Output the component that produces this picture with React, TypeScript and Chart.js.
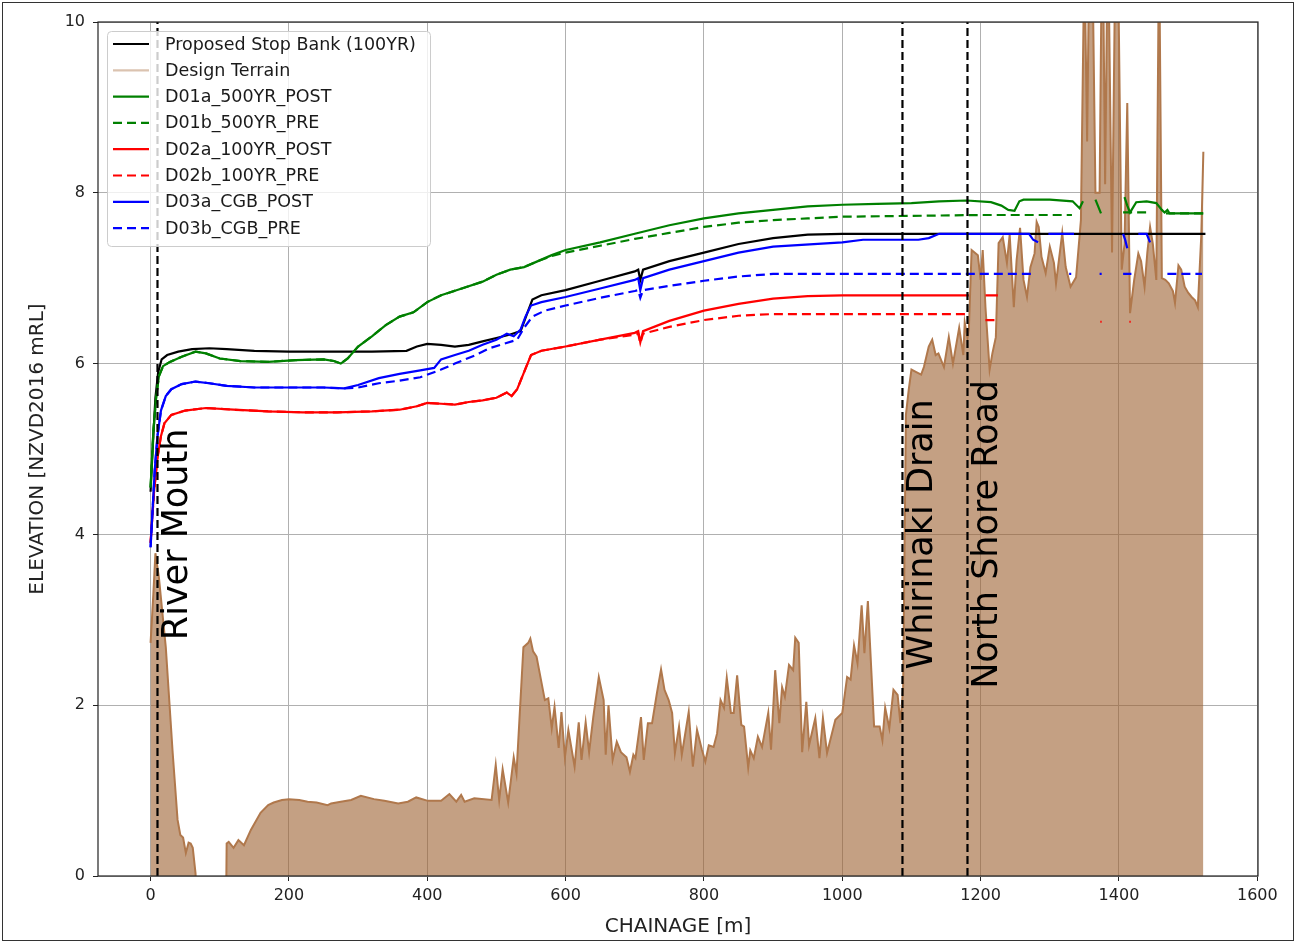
import React, { useEffect, useRef } from "react";
import { Chart, registerables } from "chart.js";

Chart.register(...registerables);

const FONT = '"DejaVu Sans", "Liberation Sans", sans-serif';

const X_TICKS = [0, 200, 400, 600, 800, 1000, 1200, 1400, 1600];
const Y_TICKS = [0, 2, 4, 6, 8, 10];
const X_MIN = -76;
const X_MAX = 1601;
const Y_MIN = 0;
const Y_MAX = 10;

const X_TITLE = "CHAINAGE [m]";
const Y_TITLE = "ELEVATION [NZVD2016 mRL]";

const MARKER_X = [10, 1087, 1181];
const MARKER_LABELS = ["River Mouth", "Whirinaki Drain", "North Shore Road"];
const MARKER_LABEL_Y = 4;

// Design terrain
const TERRAIN_X = [
  0, 4, 7, 12, 22, 32, 39, 43, 47, 51, 55, 58, 61, 65, 68, 109, 110, 113, 120, 127, 135, 145, 159, 170, 178, 190,
  200, 215, 227, 240, 256, 261, 275, 290, 304, 323, 338, 358, 372, 384, 401, 420, 432, 442, 449, 454, 468, 493,
  499, 504, 509, 517, 525, 529, 539, 546, 549, 553, 558, 570, 575, 580, 584, 590, 594, 599, 604, 613, 619, 623,
  629, 634, 640, 648, 655, 658, 662, 668, 674, 680, 688, 693, 698, 701, 709, 713, 719, 725, 732, 738, 743, 749,
  754, 758, 764, 768, 778, 784, 790, 797, 802, 807, 814, 819, 824, 829, 833, 839, 843, 848, 854, 858, 864, 867,
  872, 878, 884, 893, 897, 903, 909, 913, 917, 923, 929, 932, 937, 942, 948, 952, 961, 967, 972, 978, 990, 1000,
  1007, 1012, 1017, 1022, 1028, 1032, 1037, 1046, 1054, 1058, 1062, 1068, 1074, 1080, 1084, 1088, 1092, 1096,
  1100, 1107, 1114, 1118, 1125, 1130, 1135, 1139, 1147, 1154, 1160, 1169, 1175, 1177, 1181, 1183, 1187, 1196,
  1200, 1203, 1207, 1213, 1217, 1222, 1226, 1232, 1238, 1242, 1248, 1252, 1257, 1262, 1267, 1272, 1278, 1281,
  1284, 1288, 1294, 1300, 1306, 1309, 1318, 1323, 1330, 1338, 1345, 1350, 1354, 1358, 1362, 1366, 1372, 1376,
  1380, 1384, 1390, 1395, 1399, 1404, 1408, 1412, 1416, 1422, 1428, 1432, 1437, 1441, 1445, 1449, 1454, 1458,
  1462, 1467, 1472, 1478, 1481, 1486, 1490, 1495, 1500, 1505, 1510, 1514, 1519, 1522,
];
const TERRAIN_Y = [
  2.73, 3.3, 3.78, 3.5, 2.68, 1.44, 0.66, 0.48, 0.45, 0.27, 0.39, 0.38, 0.33, 0.03, -0.5, -0.5, 0.38, 0.4, 0.33,
  0.42, 0.36, 0.54, 0.74, 0.83, 0.86, 0.89, 0.9, 0.89, 0.87, 0.86, 0.83, 0.85, 0.87, 0.89, 0.94, 0.9, 0.88, 0.85,
  0.87, 0.92, 0.88, 0.88, 0.96, 0.87, 0.95, 0.87, 0.91, 0.89, 1.3, 0.89, 1.25, 0.86, 1.39, 1.2, 2.68, 2.73, 2.78,
  2.63, 2.57, 2.06, 2.08, 1.73, 1.98, 1.5, 1.92, 1.39, 1.71, 1.28, 1.8, 1.36, 1.8, 1.45, 1.86, 2.33, 2.06, 1.42,
  2.0, 1.36, 1.57, 1.45, 1.39, 1.22, 1.42, 1.38, 1.86, 1.36, 1.79, 1.79, 2.14, 2.42, 2.18, 2.06, 1.91, 1.44, 1.75,
  1.42, 1.92, 1.28, 1.71, 1.48, 1.34, 1.53, 1.51, 1.67, 2.06, 1.97, 2.32, 1.91, 1.91, 2.35, 1.77, 1.75, 1.27, 1.47,
  1.38, 1.63, 1.51, 1.91, 1.48, 2.41, 1.79, 2.21, 2.1, 2.47, 2.41, 2.79, 2.73, 1.45, 2.04, 1.53, 1.85, 1.38, 1.85,
  1.44, 1.83, 1.91, 2.33, 2.3, 2.7, 2.49, 3.17, 2.61, 3.22, 1.75, 1.75, 1.59, 1.97, 1.73, 2.18, 2.12, 1.79, 2.2,
  5.4, 5.69, 5.93, 5.9, 5.87, 5.96, 6.2, 6.28, 6.1, 6.12, 5.96, 6.31, 6.0, 6.42, 6.1, 6.48, 6.3, 6.4, 7.33, 7.27,
  6.98, 7.33, 6.66, 5.93, 6.12, 6.31, 7.41, 7.48, 7.18, 7.51, 6.66, 7.21, 7.59, 6.98, 6.78, 7.13, 7.29, 7.66, 7.6,
  7.25, 7.06, 7.37, 7.18, 6.94, 7.53, 7.13, 6.9, 7.01, 7.68, 10.8, 8.6, 11.5, 10.5, 8.0, 8.0, 11.5, 8.1, 11.2, 7.3,
  11.0, 10.5, 7.1, 7.4, 9.05, 6.59, 6.98, 7.29, 7.2, 6.9, 7.3, 7.6, 7.4, 6.98, 11.0, 7.0, 6.98, 6.94, 6.85, 6.71,
  7.15, 7.1, 6.9, 6.83, 6.78, 6.74, 6.66, 7.5, 8.48,
];

// Proposed Stop Bank (100YR)
const STOPBANK_X = [
  0, 3, 7, 11, 16, 24, 40, 60, 85, 110, 150, 200, 260, 320, 370, 385, 400, 420, 440, 460, 480, 500, 520, 535, 545,
  552, 565, 600, 650, 700, 705, 708, 712, 750, 800, 850, 900, 950, 1000, 1525,
];
const STOPBANK_Y = [
  4.5, 5.0, 5.6, 5.9, 6.05, 6.1, 6.14, 6.17, 6.18, 6.17, 6.15, 6.14, 6.14, 6.14, 6.15, 6.2, 6.23, 6.22, 6.2, 6.22,
  6.26, 6.3, 6.34, 6.38, 6.6, 6.75, 6.8, 6.86, 6.97, 7.08, 7.1, 6.98, 7.1, 7.2, 7.3, 7.4, 7.47, 7.51, 7.52, 7.52,
];

// D01a_500YR_POST
const D01A_X = [
  0, 4, 8, 12, 18, 28, 45, 65, 80, 100, 130, 170, 210, 250, 265, 275, 285, 300, 320, 340, 360, 380, 400, 420, 450,
  480, 500, 520, 540, 560, 580, 600, 650, 700, 750, 800, 850, 900, 950, 1000, 1050, 1100, 1140, 1180, 1215, 1230,
  1240, 1249, 1256, 1262, 1300, 1333, 1343, 1348, 1350, 1366, 1374, 1376, 1408, 1412, 1416, 1425, 1440, 1454, 1458,
  1462, 1466, 1470, 1473, 1522,
];
const D01A_Y = [
  4.55, 5.2, 5.6, 5.85, 5.97, 6.02, 6.08, 6.14, 6.12, 6.06, 6.03, 6.02, 6.04, 6.05, 6.03, 6.0, 6.06, 6.2, 6.32,
  6.45, 6.55, 6.6, 6.72, 6.8, 6.88, 6.96, 7.04, 7.1, 7.13, 7.2, 7.27, 7.33, 7.42, 7.52, 7.62, 7.7, 7.76, 7.8, 7.84,
  7.86, 7.87, 7.88, 7.9, 7.91, 7.89, 7.85, 7.8, 7.79, 7.9, 7.92, 7.92, 7.9, 7.82, 7.9, null, 7.92, 7.76, null, 7.95,
  7.85, 7.77, 7.89, 7.9, 7.88, 7.84, 7.8, 7.77, 7.8, 7.76, 7.76,
];

// D01b_500YR_PRE
const D01B_X = [
  0, 4, 8, 12, 18, 28, 45, 65, 80, 100, 130, 170, 210, 250, 265, 275, 285, 300, 320, 340, 360, 380, 400, 420, 450,
  480, 500, 520, 540, 560, 580, 600, 650, 700, 750, 800, 850, 900, 950, 1000, 1100, 1200, 1332, 1334, 1406, 1445,
  1447, 1468, 1522,
];
const D01B_Y = [
  4.55, 5.2, 5.6, 5.85, 5.97, 6.02, 6.08, 6.14, 6.12, 6.06, 6.03, 6.02, 6.04, 6.05, 6.03, 6.0, 6.06, 6.2, 6.32,
  6.45, 6.55, 6.6, 6.72, 6.8, 6.88, 6.96, 7.04, 7.1, 7.13, 7.2, 7.26, 7.3, 7.38, 7.46, 7.53, 7.6, 7.65, 7.68, 7.7,
  7.72, 7.73, 7.74, 7.74, null, 7.77, 7.77, null, 7.76, 7.76,
];

// D02a_100YR_POST
const D02A_X = [
  0, 5, 10, 15, 20, 30, 50, 80, 120, 170, 220, 270, 320, 360, 385, 400, 420, 440, 460, 480, 500, 510, 515, 522, 530,
  540, 550, 565, 600, 650, 700, 705, 708, 712, 750, 800, 850, 900, 950, 1000, 1183, 1185, 1205, 1207, 1225,
];
const D02A_Y = [
  3.9, 4.5, 4.9, 5.15, 5.3, 5.4, 5.45, 5.48, 5.46, 5.44, 5.43, 5.43, 5.44, 5.46, 5.5, 5.54, 5.53, 5.52, 5.55, 5.57,
  5.6, 5.64, 5.66, 5.62, 5.7, 5.9, 6.1, 6.15, 6.2, 6.28, 6.36, 6.38, 6.25, 6.38, 6.5, 6.62, 6.7, 6.76, 6.79, 6.8,
  6.8, null, null, 6.8, 6.8,
];

// D02b_100YR_PRE
const D02B_X = [
  0, 5, 10, 15, 20, 30, 50, 80, 120, 170, 220, 270, 320, 360, 385, 400, 420, 440, 460, 480, 500, 510, 515, 522, 530,
  540, 550, 565, 600, 650, 700, 705, 708, 712, 750, 800, 850, 900, 1180, 1182, 1207, 1225, 1227, 1373, 1375, 1377,
  1415, 1417,
];
const D02B_Y = [
  3.9, 4.5, 4.9, 5.15, 5.3, 5.4, 5.45, 5.48, 5.46, 5.44, 5.43, 5.43, 5.44, 5.46, 5.5, 5.54, 5.53, 5.52, 5.55, 5.57,
  5.6, 5.64, 5.66, 5.62, 5.7, 5.9, 6.1, 6.15, 6.2, 6.28, 6.34, 6.35, 6.24, 6.35, 6.43, 6.51, 6.56, 6.58, 6.58, null,
  6.51, 6.51, null, 6.49, 6.49, null, 6.49, 6.49,
];

// D03a_CGB_POST
const D03A_X = [
  0, 3, 6, 10, 15, 22, 30, 45, 65, 85, 110, 150, 200, 250, 280, 300, 330, 360, 390, 410, 420, 440, 460, 480, 500,
  515, 525, 535, 542, 550, 565, 600, 650, 700, 705, 708, 712, 750, 800, 850, 900, 1000, 1030, 1110, 1125, 1140,
  1270, 1276, 1283, 1285, 1298, 1335, 1337, 1406, 1409, 1412, 1414, 1428, 1440, 1445, 1447,
];
const D03A_Y = [
  3.85, 4.3, 4.75, 5.15, 5.45, 5.62, 5.7, 5.76, 5.79, 5.77, 5.74, 5.72, 5.72, 5.72, 5.71, 5.75, 5.83, 5.88, 5.92,
  5.95, 6.05, 6.1, 6.15, 6.22, 6.28, 6.35, 6.32, 6.4, 6.55, 6.68, 6.72, 6.78, 6.88, 6.98, 7.0, 6.86, 7.0, 7.1, 7.2,
  7.3, 7.37, 7.42, 7.45, 7.45, 7.47, 7.52, 7.52, 7.45, 7.42, null, 7.52, 7.52, null, 7.52, 7.45, 7.35, null, 7.52,
  7.52, 7.42, null,
];

// D03b_CGB_PRE
const D03B_X = [
  0, 3, 6, 10, 15, 22, 30, 45, 65, 85, 110, 150, 200, 250, 280, 300, 330, 360, 390, 420, 440, 470, 490, 510, 530,
  540, 552, 570, 600, 650, 700, 705, 708, 712, 750, 800, 850, 900, 1000, 1275, 1277, 1328, 1331, 1333, 1372, 1375,
  1377, 1406, 1418, 1420, 1470, 1520,
];
const D03B_Y = [
  3.85, 4.3, 4.75, 5.15, 5.45, 5.62, 5.7, 5.76, 5.79, 5.77, 5.74, 5.72, 5.72, 5.72, 5.71, 5.72, 5.77, 5.8, 5.84,
  5.93, 6.0, 6.1, 6.18, 6.23, 6.28, 6.42, 6.55, 6.62, 6.68, 6.77, 6.85, 6.86, 6.77, 6.86, 6.91, 6.97, 7.02, 7.05,
  7.05, 7.05, null, 7.05, 7.05, null, 7.05, 7.05, null, 7.05, 7.05, null, 7.05, 7.05,
];

const SERIES_LABELS = [
  "Proposed Stop Bank (100YR)",
  "Design Terrain",
  "D01a_500YR_POST",
  "D01b_500YR_PRE",
  "D02a_100YR_POST",
  "D02b_100YR_PRE",
  "D03a_CGB_POST",
  "D03b_CGB_PRE",
];

const pts = (xs: number[], ys: (number | null)[]) => xs.map((x, i) => ({ x, y: ys[i] }));

const LEGEND_ITEMS = [
  { label: SERIES_LABELS[0], color: "#000000", dash: [] as number[] },
  { label: SERIES_LABELS[1], color: "rgba(176,122,80,0.45)", dash: [] as number[] },
  { label: SERIES_LABELS[2], color: "#008000", dash: [] as number[] },
  { label: SERIES_LABELS[3], color: "#008000", dash: [9, 5] },
  { label: SERIES_LABELS[4], color: "#ff0000", dash: [] as number[] },
  { label: SERIES_LABELS[5], color: "#ff0000", dash: [9, 5] },
  { label: SERIES_LABELS[6], color: "#0000ff", dash: [] as number[] },
  { label: SERIES_LABELS[7], color: "#0000ff", dash: [9, 5] },
];

const overlayPlugin = {
  id: "overlay",
  afterDatasetsDraw(chart: any) {
    const { ctx, chartArea, scales } = chart;
    const xs = scales.x;
    const ys = scales.y;
    ctx.save();
    ctx.font = `35px ${FONT}`;
    ctx.fillStyle = "#000";
    ctx.textAlign = "center";
    ctx.textBaseline = "top";
    MARKER_X.forEach((mx, i) => {
      const px = xs.getPixelForValue(mx) + 3;
      const py = ys.getPixelForValue(MARKER_LABEL_Y);
      ctx.save();
      ctx.translate(px, py);
      ctx.rotate(-Math.PI / 2);
      ctx.fillText(MARKER_LABELS[i], 0, 0);
      ctx.restore();
    });
    ctx.strokeStyle = "#222";
    ctx.lineWidth = 1.2;
    ctx.strokeRect(chartArea.left, chartArea.top, chartArea.right - chartArea.left, chartArea.bottom - chartArea.top);
    ctx.restore();
  },
  afterDraw(chart: any) {
    const { ctx, chartArea } = chart;
    ctx.save();
    const bx = chartArea.left + 9;
    const by = chartArea.top + 9;
    const bw = 323;
    const bh = 215;
    ctx.beginPath();
    (ctx as any).roundRect(bx + 0.5, by + 0.5, bw, bh, 4);
    ctx.fillStyle = "rgba(255,255,255,0.8)";
    ctx.fill();
    ctx.strokeStyle = "#cccccc";
    ctx.lineWidth = 1;
    ctx.stroke();
    ctx.font = `17.5px ${FONT}`;
    ctx.textAlign = "left";
    ctx.textBaseline = "middle";
    LEGEND_ITEMS.forEach((it, i) => {
      const cy = by + 13 + i * 26.3;
      ctx.beginPath();
      ctx.setLineDash(it.dash);
      ctx.strokeStyle = it.color;
      ctx.lineWidth = 2.2;
      ctx.moveTo(bx + 6, cy);
      ctx.lineTo(bx + 42, cy);
      ctx.stroke();
      ctx.setLineDash([]);
      ctx.fillStyle = "#1a1a1a";
      ctx.fillText(it.label, bx + 58, cy + 1);
    });
    ctx.strokeStyle = "#333";
    ctx.lineWidth = 1;
    ctx.strokeRect(2.5, 2.5, chart.width - 5, chart.height - 5);
    ctx.restore();
  },
};

export default function App() {
  const ref = useRef<HTMLCanvasElement | null>(null);

  useEffect(() => {
    document.body.style.margin = "0";
    const canvas = ref.current;
    if (!canvas) return;
    const lineDs = (label: string, xs: number[], ys: (number | null)[], color: string, dash: number[], order: number) => ({
      label,
      data: pts(xs, ys),
      borderColor: color,
      backgroundColor: color,
      borderWidth: 2.2,
      borderDash: dash,
      pointRadius: 0,
      tension: 0,
      fill: false,
      spanGaps: false,
      order,
    });
    const markerDs = MARKER_X.map((mx) => ({
      label: "marker",
      data: [
        { x: mx, y: Y_MIN },
        { x: mx, y: Y_MAX },
      ],
      borderColor: "#000",
      borderWidth: 2.2,
      borderDash: [8, 4],
      pointRadius: 0,
      fill: false,
      order: 0,
    }));
    const chart = new Chart(canvas, {
      type: "line",
      data: {
        datasets: [
          ...markerDs,
          lineDs(SERIES_LABELS[7], D03B_X, D03B_Y, "#0000ff", [9, 5], 1),
          lineDs(SERIES_LABELS[6], D03A_X, D03A_Y, "#0000ff", [], 2),
          lineDs(SERIES_LABELS[5], D02B_X, D02B_Y, "#ff0000", [9, 5], 3),
          lineDs(SERIES_LABELS[4], D02A_X, D02A_Y, "#ff0000", [], 4),
          lineDs(SERIES_LABELS[3], D01B_X, D01B_Y, "#008000", [9, 5], 5),
          lineDs(SERIES_LABELS[2], D01A_X, D01A_Y, "#008000", [], 6),
          lineDs(SERIES_LABELS[0], STOPBANK_X, STOPBANK_Y, "#000000", [], 7),
          {
            label: SERIES_LABELS[1],
            data: pts(TERRAIN_X, TERRAIN_Y),
            borderColor: "#b0784c",
            backgroundColor: "rgba(157,97,48,0.6)",
            borderWidth: 2,
            pointRadius: 0,
            tension: 0,
            fill: "origin",
            order: 8,
          },
        ] as any,
      },
      options: {
        responsive: false,
        devicePixelRatio: 1,
        animation: false,
        layout: { padding: { left: 0, top: 22, right: 38, bottom: 0 } },
        plugins: {
          legend: { display: false },
          tooltip: { enabled: false },
          title: { display: false },
        },
        scales: {
          x: {
            type: "linear",
            min: X_MIN,
            max: X_MAX,
            afterBuildTicks: (s: any) => {
              s.ticks = X_TICKS.map((v) => ({ value: v }));
            },
            afterFit: (s: any) => {
              s.height = 67;
              s.paddingLeft = 0;
              s.paddingRight = 0;
            },
            grid: { color: "#b0b0b0", lineWidth: 1, tickLength: 5, tickColor: "#222", drawTicks: true },
            border: { display: false },
            ticks: {
              font: { family: FONT, size: 16 },
              color: "#222",
              padding: 5,
              maxRotation: 0,
              callback: (v: any) => String(v),
            },
            title: {
              display: true,
              text: X_TITLE,
              font: { family: FONT, size: 20 },
              color: "#222",
              padding: { top: 0, bottom: 4 },
            },
          },
          y: {
            type: "linear",
            min: Y_MIN,
            max: Y_MAX,
            afterBuildTicks: (s: any) => {
              s.ticks = Y_TICKS.map((v) => ({ value: v }));
            },
            afterFit: (s: any) => {
              s.width = 98;
              s.paddingTop = 0;
              s.paddingBottom = 0;
            },
            grid: { color: "#b0b0b0", lineWidth: 1, tickLength: 5, tickColor: "#222", drawTicks: true },
            border: { display: false },
            ticks: { font: { family: FONT, size: 16 }, color: "#222", padding: 8, callback: (v: any) => String(v) },
            title: {
              display: true,
              text: Y_TITLE,
              font: { family: FONT, size: 20 },
              color: "#222",
              padding: { top: 26, bottom: 0 },
            },
          },
        },
      },
      plugins: [overlayPlugin],
    });
    return () => chart.destroy();
  }, []);

  return (
    <div style={{ width: 1296, height: 943, background: "#fff" }}>
      <canvas ref={ref} width={1296} height={943} style={{ width: 1296, height: 943, display: "block" }} />
    </div>
  );
}
